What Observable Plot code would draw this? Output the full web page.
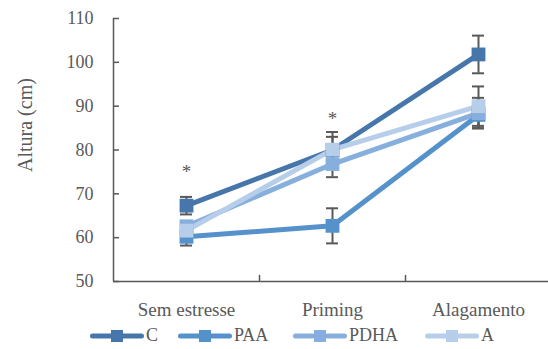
<!DOCTYPE html>
<html><head><meta charset="utf-8">
<script src="https://cdn.jsdelivr.net/npm/d3@7"></script>
<script src="https://cdn.jsdelivr.net/npm/@observablehq/plot@0.6"></script>
<style>
body{margin:0;background:#fff;font-family:"Liberation Serif",serif;}
#legend{display:flex;justify-content:flex-start;align-items:center;height:27px;color:#595959;font-size:18px;}
.item{display:flex;align-items:center;position:absolute;}
</style></head>
<body><div id="chart"></div><div id="legend" style="position:relative"></div>
<script>
const categories = ["Sem estresse", "Priming", "Alagamento"];
const seriesNames = ["C", "PAA", "PDHA", "A"];
const colors = ["#4676AA", "#5592CB", "#87AFDD", "#B7CEEA"];
const means = {
  C:    [67.3, 80.0, 101.8],
  PAA:  [60.2, 62.7, 88.0],
  PDHA: [62.6, 76.8, 88.4],
  A:    [61.6, 80.1, 90.0]
};
const errors = {
  C:    [2.0, 3.0, 4.3],
  PAA:  [2.0, 4.0, 3.0],
  PDHA: [1.0, 3.0, 3.5],
  A:    [1.0, 4.0, 4.5]
};
const yTicks = [50, 60, 70, 80, 90, 100, 110];
const stars = [{cat: "Sem estresse", y: 74.9}, {cat: "Priming", y: 87.2}];

const data = [];
seriesNames.forEach(s => categories.forEach((c, i) => data.push({series: s, cat: c, y: means[s][i], e: errors[s][i]})));

const gray = "#595959";
const plot = Plot.plot({
  width: 548, height: 322,
  marginTop: 18, marginBottom: 41, marginLeft: 113, marginRight: 0,
  style: {fontFamily: "Liberation Serif, serif", fontSize: "18px", color: gray, background: "white"},
  x: {type: "band", domain: categories, range: [113, 551], padding: 0, label: null},
  y: {domain: [50, 110], ticks: yTicks, label: null},
  color: {domain: seriesNames, range: colors},
  marks: [
    Plot.axisY({ticks: yTicks, tickSize: 0, tickPadding: 20, label: null, fill: gray}),
    Plot.axisX({tickSize: 0, tickPadding: 21, label: null, fill: gray, fontSize: 19}),
    Plot.ruleY([50], {stroke: gray, strokeWidth: 1.5}),
    Plot.ruleX([categories[0]], {dx: -73, y1: 50, y2: 110, stroke: gray, strokeWidth: 1.5}),
    Plot.tickY(yTicks, {y: d => d, x: () => categories[0], insetRight: 140, stroke: gray, strokeWidth: 1.5}),
    Plot.ruleX(categories.slice(1), {x: d => d, dx: -73, y1: 50, y2: 51.4, stroke: gray, strokeWidth: 1.5}),
    Plot.text(["Altura (cm)"], {frameAnchor: "left", rotate: -90, dx: -88, dy: 22, fill: gray, fontSize: 20}),
    Plot.ruleX(data, {x: "cat", y1: d => d.y - d.e, y2: d => d.y + d.e, stroke: gray, strokeWidth: 2}),
    Plot.tickY(data, {x: "cat", y: d => d.y - d.e, insetLeft: 67, insetRight: 67, stroke: gray, strokeWidth: 2}),
    Plot.tickY(data, {x: "cat", y: d => d.y + d.e, insetLeft: 67, insetRight: 67, stroke: gray, strokeWidth: 2}),
    Plot.line(data, {x: "cat", y: "y", z: "series", stroke: "series", strokeWidth: 5}),
    Plot.dot(data, {x: "cat", y: "y", fill: "series", symbol: "square", r: 7.8, stroke: "none"}),
    Plot.text(stars, {x: "cat", y: "y", text: () => "*", fill: gray, fontSize: 19})
  ]
});
document.getElementById("chart").appendChild(plot);

const leg = document.getElementById("legend");
const lefts = [90, 178, 293, 425];
seriesNames.forEach((s, i) => {
  const item = document.createElement("div");
  item.className = "item";
  item.style.left = lefts[i] + "px";
  const ns = "http://www.w3.org/2000/svg";
  const svg = document.createElementNS(ns, "svg");
  svg.setAttribute("width", 54); svg.setAttribute("height", 16);
  const line = document.createElementNS(ns, "line");
  line.setAttribute("x1", 2.5); line.setAttribute("x2", 51.5); line.setAttribute("y1", 8); line.setAttribute("y2", 8);
  line.setAttribute("stroke", colors[i]); line.setAttribute("stroke-width", 5); line.setAttribute("stroke-linecap", "round");
  const rect = document.createElementNS(ns, "rect");
  rect.setAttribute("x", 21); rect.setAttribute("y", 2); rect.setAttribute("width", 12); rect.setAttribute("height", 12);
  rect.setAttribute("fill", colors[i]);
  svg.appendChild(line); svg.appendChild(rect);
  const t = document.createElement("span");
  t.textContent = s; t.style.marginLeft = "2px";
  item.appendChild(svg); item.appendChild(t);
  leg.appendChild(item);
});
</script></body></html>
